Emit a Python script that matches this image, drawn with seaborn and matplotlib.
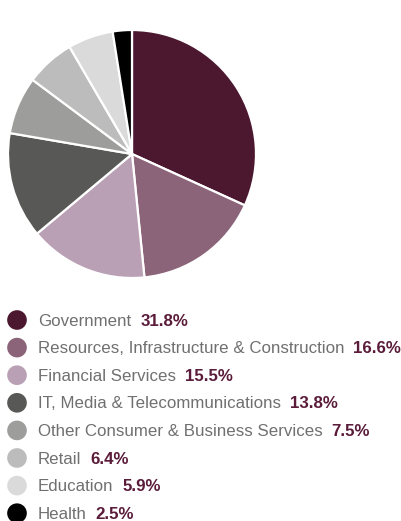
import matplotlib
matplotlib.use("Agg")
import matplotlib.pyplot as plt
import seaborn as sns

sns.set_theme(style="white")
plt.rcParams["font.family"] = ["Liberation Sans", "DejaVu Sans"]

# Share of work by sector
sectors = [
    "Government",
    "Resources, Infrastructure & Construction",
    "Financial Services",
    "IT, Media & Telecommunications",
    "Other Consumer & Business Services",
    "Retail",
    "Education",
    "Health",
]
shares = [31.8, 16.6, 15.5, 13.8, 7.5, 6.4, 5.9, 2.5]
colors = ["#4b1830", "#8b6479", "#b9a0b4", "#585856",
          "#9d9d9b", "#bcbcbc", "#dadada", "#000000"]

W, H = 401, 521
fig = plt.figure(figsize=(W / 100, H / 100), dpi=100)
fig.patch.set_facecolor("white")

# Pie
cx, cy, r = 132, 154, 124
ax = fig.add_axes([(cx - r) / W, 1 - (cy + r) / H, 2 * r / W, 2 * r / H])
ax.pie(shares, colors=colors, startangle=90, counterclock=False, radius=1,
       wedgeprops=dict(edgecolor="white", linewidth=1.6))
ax.set_xlim(-1.0, 1.0)
ax.set_ylim(-1.0, 1.0)
ax.set_axis_off()

# Legend with bullets, names and bold values
lax = fig.add_axes([0, 0, 1, 1])
lax.patch.set_alpha(0)

y0, dy = 320, 27.6
ys = [y0 + i * dy for i in range(len(sectors))]
sns.scatterplot(x=[17] * len(sectors), y=ys, hue=sectors, palette=colors,
                s=200, linewidth=0, legend=False, ax=lax)
lax.set_xlim(0, W)
lax.set_ylim(H, 0)
lax.set_axis_off()

fig.canvas.draw()
renderer = fig.canvas.get_renderer()
for name, val, y in zip(sectors, shares, ys):
    t = lax.text(38, y + 1, name, fontsize=12.2,
                 color="#707070", va="center", ha="left")
    bb = t.get_window_extent(renderer=renderer)
    x_end = bb.x1 * 100 / fig.dpi
    lax.text(x_end + 9, y + 1, f"{val:.1f}%", fontsize=12.2, fontweight="bold",
             color="#5a1c3a", va="center", ha="left")

fig.savefig("out.png", dpi=100, facecolor="white")
